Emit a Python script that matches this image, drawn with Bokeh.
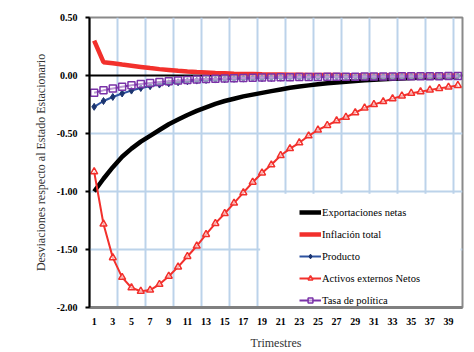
from bokeh.plotting import figure
from bokeh.models import FixedTicker, PrintfTickFormatter, Span, BoxAnnotation, Legend, LegendItem, Range1d
from bokeh.embed import file_html
from bokeh.resources import INLINE

trimestres = list(range(1, 41))
x_tick_labels = list(range(1, 40, 2))
y_ticks = [0.5, 0.0, -0.5, -1.0, -1.5, -2.0]

exportaciones = [-1.00, -0.89, -0.79, -0.70, -0.63, -0.57, -0.52, -0.47, -0.42, -0.38,
                 -0.34, -0.305, -0.275, -0.245, -0.22, -0.20, -0.18, -0.165, -0.15, -0.135,
                 -0.12, -0.105, -0.095, -0.085, -0.075, -0.067, -0.06, -0.053, -0.047, -0.042,
                 -0.037, -0.033, -0.029, -0.025, -0.022, -0.019, -0.016, -0.014, -0.012, -0.01]
inflacion = [0.30, 0.115, 0.105, 0.094, 0.084, 0.074, 0.064, 0.055, 0.048, 0.041,
             0.035, 0.030, 0.026, 0.022, 0.019, 0.016, 0.014, 0.012, 0.010, 0.009,
             0.008, 0.007, 0.006, 0.005, 0.005, 0.004, 0.004, 0.003, 0.003, 0.003,
             0.002, 0.002, 0.002, 0.002, 0.001, 0.001, 0.001, 0.001, 0.001, 0.001]
producto = [-0.27, -0.22, -0.185, -0.155, -0.13, -0.108, -0.092, -0.078, -0.067, -0.058,
            -0.05, -0.044, -0.039, -0.035, -0.032, -0.029, -0.027, -0.025, -0.023, -0.021,
            -0.019, -0.018, -0.017, -0.016, -0.015, -0.014, -0.013, -0.012, -0.011, -0.010,
            -0.010, -0.009, -0.009, -0.008, -0.008, -0.007, -0.007, -0.006, -0.006, -0.005]
activos = [-0.83, -1.28, -1.57, -1.74, -1.83, -1.86, -1.85, -1.80, -1.73, -1.65,
           -1.56, -1.47, -1.37, -1.275, -1.19, -1.10, -1.01, -0.92, -0.84, -0.77,
           -0.69, -0.63, -0.58, -0.52, -0.47, -0.43, -0.39, -0.36, -0.32, -0.28,
           -0.25, -0.225, -0.20, -0.176, -0.153, -0.139, -0.125, -0.111, -0.10, -0.085]
tasa = [-0.148, -0.128, -0.112, -0.097, -0.084, -0.073, -0.064, -0.056, -0.049, -0.043,
        -0.038, -0.034, -0.030, -0.027, -0.025, -0.023, -0.021, -0.019, -0.018, -0.017,
        -0.016, -0.015, -0.014, -0.013, -0.012, -0.011, -0.011, -0.010, -0.010, -0.009,
        -0.009, -0.008, -0.008, -0.007, -0.007, -0.006, -0.006, -0.006, -0.005, -0.005]

SERIF = "Liberation Serif"
RED = "#f2302c"
BLUE = "#2d52a0"
NAVY = "#1c3570"
PURPLE = "#7a32a8"
GRID = "#bcd3ea"

p = figure(width=474, height=352, output_backend="svg", toolbar_location=None,
           x_range=Range1d(0.5, 40.5), y_range=Range1d(-2.0, 0.5),
           min_border_left=89, min_border_right=12, min_border_top=17, min_border_bottom=43)

p.background_fill_color = "white"
p.border_fill_color = "white"
p.outline_line_color = "#8a8a8a"
p.outline_line_width = 2

# axes
p.yaxis.ticker = FixedTicker(ticks=y_ticks)
p.yaxis.formatter = PrintfTickFormatter(format="%.2f")
p.yaxis.axis_line_color = "black"
p.yaxis.axis_line_width = 2
p.yaxis.major_tick_out = 4
p.yaxis.major_tick_in = 0
p.yaxis.major_tick_line_color = "black"
p.yaxis.major_tick_line_width = 2
p.yaxis.minor_tick_line_color = None
p.yaxis.major_label_standoff = 8
p.yaxis.axis_label = "Desviaciones respecto al Estado Estacionario"
p.yaxis.axis_label_standoff = 6

p.xaxis.ticker = FixedTicker(ticks=x_tick_labels)
p.xaxis.axis_line_color = "#808080"
p.xaxis.axis_line_width = 3
p.xaxis.major_tick_out = 0
p.xaxis.major_tick_in = 0
p.xaxis.minor_tick_line_color = None
p.xaxis.major_label_standoff = 10
p.xaxis.axis_label = "Trimestres"
p.xaxis.axis_label_standoff = 8

for ax in (p.xaxis, p.yaxis):
    ax.major_label_text_font = SERIF
    ax.major_label_text_font_style = "bold"
    ax.major_label_text_font_size = "10px"
    ax.major_label_text_color = "black"
    ax.axis_label_text_font = SERIF
    ax.axis_label_text_font_style = "normal"
    ax.axis_label_text_font_size = "12px"
    ax.axis_label_text_color = "#333333"

# grid
p.xgrid.ticker = FixedTicker(ticks=[3.5 + 3 * k for k in range(13)])
p.ygrid.ticker = FixedTicker(ticks=[-0.5, -1.0, -1.5])
for g in (p.xgrid, p.ygrid):
    g.grid_line_color = GRID
    g.grid_line_width = 2

# white area behind the legend (covers gridlines)
p.add_layout(BoxAnnotation(left=18.8, right=40.3, bottom=-2.0, top=-1.02,
                           fill_color="white", fill_alpha=1, line_color=None,
                           level="underlay"))

p.add_layout(Span(location=0, dimension="width", line_color="black", line_width=2,
                  level="underlay"))

r_exp = p.line(trimestres, exportaciones, line_color="black", line_width=4.5)
r_inf = p.line(trimestres, inflacion, line_color=RED, line_width=4.5)
r_pro_l = p.line(trimestres, producto, line_color=BLUE, line_width=2)
r_pro_m = p.scatter(trimestres, producto, marker="diamond", size=7,
                    fill_color=NAVY, line_color=NAVY)
r_act_l = p.line(trimestres, activos, line_color=RED, line_width=2)
r_act_m = p.scatter(trimestres, activos, marker="triangle", size=7,
                    fill_color="white", fill_alpha=0.6, line_color=RED, line_width=1.5)
r_tas_l = p.line(trimestres, tasa, line_color=PURPLE, line_width=2)
r_tas_m = p.scatter(trimestres, tasa, marker="square", size=7,
                    fill_color="white", fill_alpha=0.5, line_color=PURPLE, line_width=1.5)

legend = Legend(items=[
    LegendItem(label="Exportaciones netas", renderers=[r_exp]),
    LegendItem(label="Inflación total", renderers=[r_inf]),
    LegendItem(label="Producto", renderers=[r_pro_l, r_pro_m]),
    LegendItem(label="Activos externos Netos", renderers=[r_act_l, r_act_m]),
    LegendItem(label="Tasa de política", renderers=[r_tas_l, r_tas_m]),
], location=(210, 1))
legend.background_fill_alpha = 0
legend.border_line_color = None
legend.padding = 6
legend.margin = 0
legend.spacing = 10
legend.glyph_width = 22
legend.glyph_height = 12
legend.label_height = 12
legend.label_standoff = 1
legend.label_text_font = SERIF
legend.label_text_font_size = "10.5px"
legend.label_text_color = "black"
p.add_layout(legend)

open("out.html", "w").write(file_html(p, INLINE))
